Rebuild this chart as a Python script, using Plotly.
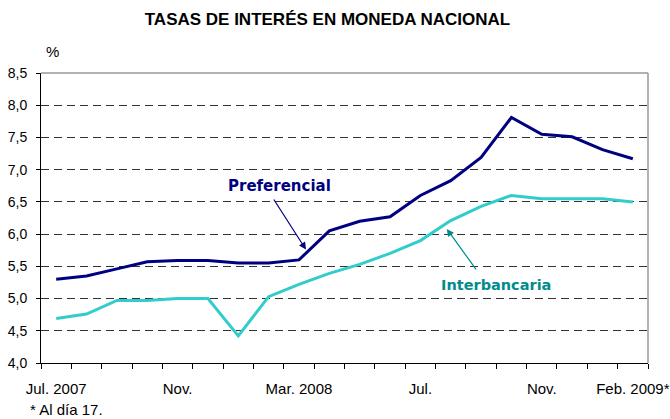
import plotly.graph_objects as go

months = ["Jul 2007", "Ago 2007", "Sep 2007", "Oct 2007", "Nov 2007", "Dic 2007",
          "Ene 2008", "Feb 2008", "Mar 2008", "Abr 2008", "May 2008", "Jun 2008",
          "Jul 2008", "Ago 2008", "Sep 2008", "Oct 2008", "Nov 2008", "Dic 2008",
          "Ene 2009", "Feb 2009"]
preferencial = [5.30, 5.35, 5.46, 5.57, 5.59, 5.59, 5.55, 5.55, 5.60, 6.05,
                6.20, 6.27, 6.60, 6.83, 7.19, 7.81, 7.55, 7.51, 7.31, 7.17]
interbancaria = [4.69, 4.76, 4.97, 4.97, 5.00, 5.00, 4.42, 5.03, 5.22, 5.39,
                 5.53, 5.70, 5.90, 6.21, 6.43, 6.60, 6.55, 6.55, 6.55, 6.50]
tick_months = ["Jul 2007", "Nov 2007", "Mar 2008", "Jul 2008", "Nov 2008", "Feb 2009"]
tick_labels = ["Jul. 2007", "Nov.", "Mar. 2008", "Jul.", "Nov.", "Feb. 2009*"]
y_ticks = [4.0, 4.5, 5.0, 5.5, 6.0, 6.5, 7.0, 7.5, 8.0, 8.5]
y_labels = ["4,0", "4,5", "5,0", "5,5", "6,0", "6,5", "7,0", "7,5", "8,0", "8,5"]

xi = list(range(len(months)))
tick_pos = [months.index(m) for m in tick_months]
boundaries = [i - 0.5 for i in range(len(months) + 1)]

ARIAL = "Liberation Sans, Arial, sans-serif"

fig = go.Figure()
fig.add_trace(go.Scatter(x=xi, y=preferencial, mode="lines", name="Preferencial",
                         line=dict(color="#000080", width=3)))
fig.add_trace(go.Scatter(x=xi, y=interbancaria, mode="lines", name="Interbancaria",
                         line=dict(color="#33CCCC", width=3)))

fig.update_layout(
    width=670, height=419,
    margin=dict(l=41, r=22, t=73, b=56),
    paper_bgcolor="white", plot_bgcolor="white",
    showlegend=False,
    title=dict(text="<b>TASAS DE INTERÉS EN MONEDA NACIONAL</b>",
               font=dict(family=ARIAL, size=17, color="black"),
               x=327.5 / 670, xanchor="center", y=1 - 19 / 419, yanchor="middle"),
)
fig.update_xaxes(
    range=[-0.5, len(months) - 0.5], showgrid=False, zeroline=False, automargin=False,
    showline=True, linecolor="black", linewidth=1,
    tickvals=tick_pos, ticktext=tick_labels, ticks="",
    tickfont=dict(family=ARIAL, size=15, color="black"),
    ticklabelstandoff=12,
    minor=dict(tickvals=boundaries, ticks="outside", ticklen=5,
               tickcolor="black", tickwidth=1, showgrid=False),
)
fig.update_yaxes(
    range=[4.0, 8.5], tickvals=y_ticks, ticktext=y_labels, automargin=False,
    showgrid=True, gridcolor="#333333", gridwidth=1, griddash="8px,5px",
    zeroline=False, showline=True, linecolor="black", linewidth=1,
    ticks="outside", ticklen=4, tickcolor="black",
    tickfont=dict(family=ARIAL, size=14, color="black"),
    ticklabelstandoff=6,
)

# gray frame at top and right
fig.add_shape(type="line", xref="x domain", yref="y domain", x0=0, x1=1, y0=1, y1=1,
              line=dict(color="#999999", width=1.5), layer="above")
fig.add_shape(type="line", xref="x domain", yref="y domain", x0=1, x1=1, y0=0, y1=1,
              line=dict(color="#999999", width=1.5), layer="above")

# series labels and arrows
fig.add_annotation(x=7.36, y=6.74, text="<b>Preferencial</b>", showarrow=False,
                   font=dict(family="DejaVu Sans", size=15, color="#000080"))
fig.add_annotation(x=8.23, y=5.76, ax=7.14, ay=6.56, axref="x", ayref="y",
                   text="", showarrow=True, arrowhead=2, arrowsize=1.2,
                   arrowwidth=1.2, arrowcolor="#000080")
fig.add_annotation(x=14.48, y=5.21, text="<b>Interbancaria</b>", showarrow=False,
                   font=dict(family="DejaVu Sans", size=14.5, color="#008C8C"))
fig.add_annotation(x=12.87, y=6.08, ax=13.87, ay=5.43, axref="x", ayref="y",
                   text="", showarrow=True, arrowhead=2, arrowsize=1.2,
                   arrowwidth=1.2, arrowcolor="#008C8C")

# unit and footnote
fig.add_annotation(xref="paper", yref="paper", x=(52 - 41) / 607, y=(363 - 51) / 290,
                   text="%", showarrow=False, xanchor="center", yanchor="middle",
                   font=dict(family=ARIAL, size=15, color="black"))
fig.add_annotation(xref="paper", yref="paper", x=(28 - 41) / 607, y=(363 - 409) / 290,
                   text="* Al día 17.", showarrow=False, xanchor="left", yanchor="middle",
                   font=dict(family=ARIAL, size=15, color="black"))

fig.write_html("out.html", config={"displayModeBar": False},
               post_script="document.body.style.margin='0';document.body.style.overflow='hidden';")
